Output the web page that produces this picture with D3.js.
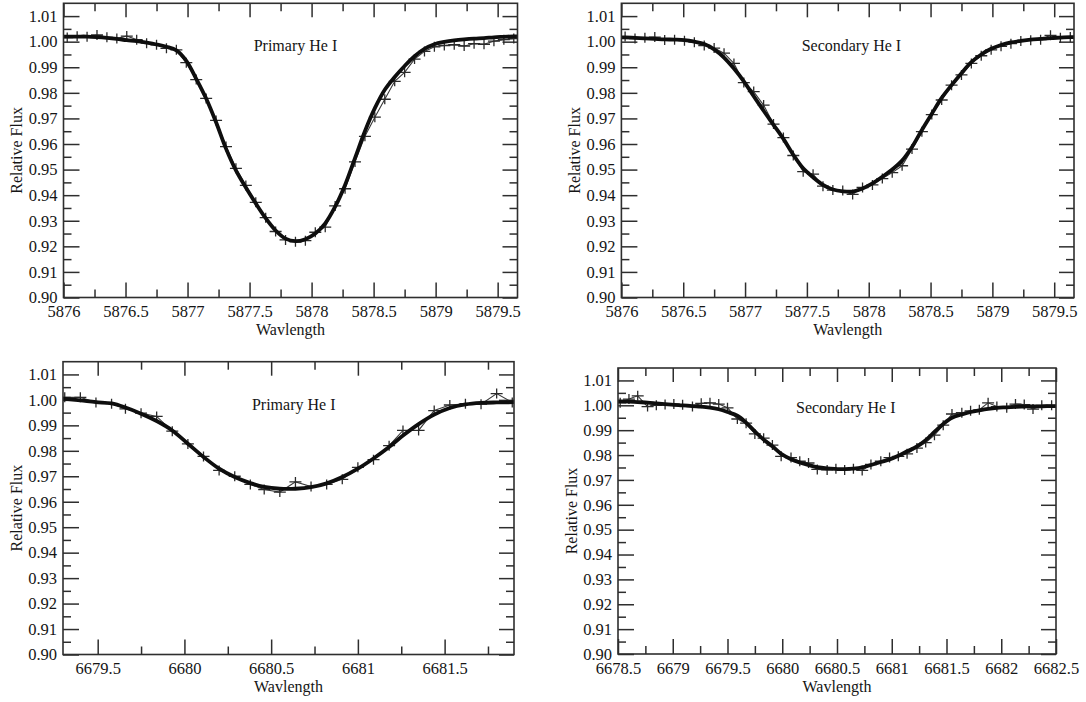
<!DOCTYPE html>
<html>
<head>
<meta charset="utf-8">
<script src="https://cdn.jsdelivr.net/npm/d3@7/dist/d3.min.js"></script>
<style>
  html, body { margin: 0; padding: 0; background: #ffffff; }
  svg { display: block; font-family: 'Liberation Serif', 'Times New Roman', Times, serif; }
</style>
</head>
<body>
<svg id="chart" width="1086" height="702"></svg>
<script>
// He I 5876 line, observed spectrum sampling (both components share it)
const waveObs5876 = [
  5876.03, 5876.11, 5876.19, 5876.27, 5876.35, 5876.43, 5876.51, 5876.59, 5876.67, 5876.75,
  5876.83, 5876.91, 5876.99, 5877.07, 5877.15, 5877.23, 5877.31, 5877.39, 5877.47, 5877.55,
  5877.63, 5877.71, 5877.79, 5877.87, 5877.95, 5878.03, 5878.11, 5878.19, 5878.27, 5878.35,
  5878.43, 5878.51, 5878.59, 5878.67, 5878.75, 5878.83, 5878.91, 5878.99, 5879.07, 5879.15,
  5879.23, 5879.31, 5879.39, 5879.47, 5879.55, 5879.63
];
const waveFit5876 = [5876.00].concat(waveObs5876, [5879.66]);

// Primary component, He I 5876
const primary5876Obs = [
  1.0016, 1.0021, 1.0019, 1.0026, 1.0017, 1.0012, 1.0022, 1.0008, 0.9994, 0.9988,
  0.9974, 0.9968, 0.9918, 0.9852, 0.9778, 0.9692, 0.9590, 0.9505, 0.9438, 0.9372,
  0.9312, 0.9258, 0.9225, 0.9218, 0.9222, 0.9255, 0.9275, 0.9358, 0.9425, 0.9530,
  0.9630, 0.9705, 0.9775, 0.9845, 0.9880, 0.9932, 0.9962, 0.9980, 0.9985, 0.9988,
  0.9983, 0.9992, 0.9990, 1.0002, 1.0008, 1.0012
];
const primary5876Fit = [
  1.0020,
  1.0020, 1.0020, 1.0020, 1.0018, 1.0015, 1.0011, 1.0006, 1.0002, 0.9996, 0.9989,
  0.9980, 0.9966, 0.9925, 0.9855, 0.9778, 0.9685, 0.9582, 0.9497, 0.9430, 0.9368,
  0.9310, 0.9262, 0.9230, 0.9220, 0.9228, 0.9250, 0.9290, 0.9355, 0.9440, 0.9545,
  0.9650, 0.9740, 0.9812, 0.9862, 0.9905, 0.9943, 0.9972, 0.9990, 0.9999, 1.0005,
  1.0009, 1.0012, 1.0014, 1.0017, 1.0019, 1.0021,
  1.0021
];

// Secondary component, He I 5876
const secondary5876Obs = [
  1.0020, 1.0012, 1.0015, 1.0018, 1.0007, 1.0008, 1.0004, 0.9998, 0.9985, 0.9975,
  0.9955, 0.9915, 0.9840, 0.9805, 0.9752, 0.9678, 0.9625, 0.9555, 0.9492, 0.9482,
  0.9435, 0.9420, 0.9418, 0.9403, 0.9430, 0.9440, 0.9465, 0.9488, 0.9515, 0.9580,
  0.9648, 0.9715, 0.9772, 0.9830, 0.9870, 0.9915, 0.9945, 0.9968, 0.9982, 0.9992,
  1.0003, 1.0006, 1.0008, 1.0025, 1.0015, 1.0018
];
const secondary5876Fit = [
  1.0017,
  1.0017, 1.0015, 1.0013, 1.0011, 1.0009, 1.0008, 1.0006, 1.0000, 0.9991, 0.9970,
  0.9938, 0.9895, 0.9845, 0.9787, 0.9730, 0.9675, 0.9620, 0.9558, 0.9505, 0.9470,
  0.9440, 0.9422, 0.9415, 0.9414, 0.9426, 0.9446, 0.9472, 0.9500, 0.9535, 0.9588,
  0.9655, 0.9718, 0.9780, 0.9830, 0.9877, 0.9920, 0.9950, 0.9972, 0.9987, 0.9997,
  1.0003, 1.0008, 1.0011, 1.0014, 1.0016, 1.0018,
  1.0018
];

// Primary component, He I 6678
const primary6678Wave = [
  6679.31, 6679.40, 6679.49, 6679.58, 6679.66, 6679.75, 6679.84, 6679.93, 6680.02, 6680.11,
  6680.20, 6680.29, 6680.38, 6680.46, 6680.55, 6680.64, 6680.73, 6680.82, 6680.91, 6681.00,
  6681.09, 6681.18, 6681.26, 6681.35, 6681.44, 6681.53, 6681.62, 6681.71, 6681.80, 6681.89
];
const primary6678Obs = [
  1.0010, 1.0010, 0.9990, 0.9985, 0.9965, 0.9948, 0.9935, 0.9877, 0.9827, 0.9778,
  0.9723, 0.9700, 0.9668, 0.9648, 0.9638, 0.9678, 0.9660, 0.9668, 0.9688, 0.9735,
  0.9765, 0.9820, 0.9880, 0.9880, 0.9958, 0.9980, 0.9985, 0.9983, 1.0025, 0.9990
];
const primary6678FitWave = [
  6679.30, 6679.40, 6679.49, 6679.58, 6679.66, 6679.75, 6679.84, 6679.93, 6680.02, 6680.11,
  6680.20, 6680.29, 6680.38, 6680.46, 6680.55, 6680.64, 6680.73, 6680.82, 6680.91, 6681.00,
  6681.09, 6681.18, 6681.26, 6681.35, 6681.44, 6681.53, 6681.62, 6681.71, 6681.80, 6681.90
];
const primary6678Fit = [
  1.0005, 0.9998, 0.9991, 0.9986, 0.9970, 0.9946, 0.9917, 0.9880, 0.9828, 0.9776,
  0.9730, 0.9697, 0.9673, 0.9658, 0.9651, 0.9651, 0.9657, 0.9672, 0.9697, 0.9730,
  0.9770, 0.9815, 0.9860, 0.9905, 0.9942, 0.9968, 0.9982, 0.9988, 0.9990, 0.9991
];

// Secondary component, He I 6678
const secondary6678Wave = [
  6678.52, 6678.60, 6678.68, 6678.77, 6678.85, 6678.93, 6679.01, 6679.09, 6679.18, 6679.26,
  6679.34, 6679.42, 6679.50, 6679.59, 6679.67, 6679.75, 6679.83, 6679.91, 6679.99, 6680.08,
  6680.16, 6680.24, 6680.32, 6680.41, 6680.49, 6680.57, 6680.65, 6680.73, 6680.81, 6680.90,
  6680.98, 6681.06, 6681.14, 6681.23, 6681.31, 6681.39, 6681.47, 6681.55, 6681.64, 6681.72,
  6681.80, 6681.88, 6681.96, 6682.05, 6682.13, 6682.21, 6682.29, 6682.37, 6682.46
];
const secondary6678Obs = [
  1.0010, 1.0025, 1.0038, 0.9995, 1.0000, 1.0003, 1.0005, 1.0002, 0.9995, 1.0008,
  1.0010, 1.0005, 0.9990, 0.9945, 0.9928, 0.9885, 0.9868, 0.9840, 0.9795, 0.9790,
  0.9775, 0.9768, 0.9742, 0.9740, 0.9745, 0.9740, 0.9745, 0.9738, 0.9762, 0.9775,
  0.9790, 0.9795, 0.9805, 0.9828, 0.9850, 0.9880, 0.9920, 0.9965, 0.9970, 0.9978,
  0.9982, 1.0010, 0.9995, 0.9990, 1.0005, 1.0003, 0.9985, 1.0000, 1.0000
];
const secondary6678FitWave = [6678.50].concat(secondary6678Wave, [6682.50]);
const secondary6678Fit = [
  1.0016,
  1.0016, 1.0015, 1.0013, 1.0011, 1.0008, 1.0005, 1.0002, 1.0000, 0.9997, 0.9995,
  0.9991, 0.9984, 0.9973, 0.9958, 0.9930, 0.9895, 0.9862, 0.9835, 0.9805, 0.9783,
  0.9770, 0.9760, 0.9751, 0.9746, 0.9744, 0.9743, 0.9745, 0.9750, 0.9760, 0.9772,
  0.9782, 0.9797, 0.9815, 0.9835, 0.9860, 0.9893, 0.9925, 0.9950, 0.9963, 0.9973,
  0.9980, 0.9986, 0.9990, 0.9992, 0.9994, 0.9995, 0.9996, 0.9996, 0.9997,
  0.9997
];

// Axis ticks
const fluxTicks = [0.90, 0.91, 0.92, 0.93, 0.94, 0.95, 0.96, 0.97, 0.98, 0.99, 1.00, 1.01];
const fluxMinor = [0.905, 0.915, 0.925, 0.935, 0.945, 0.955, 0.965, 0.975, 0.985, 0.995, 1.005];
const waveTicks5876 = [5876, 5876.5, 5877, 5877.5, 5878, 5878.5, 5879, 5879.5];
const waveMinor5876 = [5876.25, 5876.75, 5877.25, 5877.75, 5878.25, 5878.75, 5879.25];
const waveTicksP6678 = [6679.5, 6680, 6680.5, 6681, 6681.5];
const waveMinorP6678 = [6679.75, 6680.25, 6680.75, 6681.25, 6681.75];
const waveTicksS6678 = [6678.5, 6679, 6679.5, 6680, 6680.5, 6681, 6681.5, 6682, 6682.5];
const waveMinorS6678 = [6678.75, 6679.25, 6679.75, 6680.25, 6680.75, 6681.25, 6681.75, 6682.25];

const titles = ["Primary He I", "Secondary He I", "Primary He I", "Secondary He I"];
const xTitle = "Wavlength";
const yTitle = "Relative Flux";

const FONT = "'Liberation Serif', 'Times New Roman', Times, serif";
const INK = "#151515";
const FRAME = "#2e2e2e";

const panels = [
  { box: [63.5, 3.3, 517.5, 297.5], xDomain: [5876, 5879.66],
    waveObs: waveObs5876, obs: primary5876Obs, waveFit: waveFit5876, fit: primary5876Fit,
    major: waveTicks5876, minor: waveMinor5876, title: titles[0], titleAt: [5877.87, 0.9962] },
  { box: [621.4, 3.3, 1074, 297.5], xDomain: [5876, 5879.66],
    waveObs: waveObs5876, obs: secondary5876Obs, waveFit: waveFit5876, fit: secondary5876Fit,
    major: waveTicks5876, minor: waveMinor5876, title: titles[1], titleAt: [5877.86, 0.9965] },
  { box: [63, 361.7, 514, 654.5], xDomain: [6679.3, 6681.9],
    waveObs: primary6678Wave, obs: primary6678Obs, waveFit: primary6678FitWave, fit: primary6678Fit,
    major: waveTicksP6678, minor: waveMinorP6678, title: titles[2], titleAt: [6680.63, 0.9962] },
  { box: [618, 368, 1056, 654], xDomain: [6678.5, 6682.5],
    waveObs: secondary6678Wave, obs: secondary6678Obs, waveFit: secondary6678FitWave, fit: secondary6678Fit,
    major: waveTicksS6678, minor: waveMinorS6678, title: titles[3], titleAt: [6680.58, 0.9968] }
];

const svg = d3.select("#chart");
const fmtWave = d => String(+d.toFixed(2));
const fmtFlux = d3.format(".2f");

panels.forEach((p, i) => {
  const [x0, y0, x1, y1] = p.box;
  const w = x1 - x0, h = y1 - y0;
  const x = d3.scaleLinear().domain(p.xDomain).range([0, w]);
  const y = d3.scaleLinear().domain([0.90, 1.015]).range([h, 0]);

  const g = svg.append("g").attr("transform", `translate(${x0},${y0})`);

  const clipId = "clip" + i;
  g.append("clipPath").attr("id", clipId)
    .append("rect").attr("width", w).attr("height", h);

  // inward-pointing ticks on all four sides
  const styleAxis = sel => {
    sel.attr("font-family", FONT).attr("font-size", 16.5);
    sel.select(".domain").remove();
    sel.selectAll(".tick line").attr("stroke", FRAME).attr("stroke-width", 1.5);
    sel.selectAll(".tick text").attr("fill", INK)
      .style("font-family", FONT).style("font-size", "16.5px");
  };

  g.append("g").attr("transform", `translate(0,${h})`)
    .call(d3.axisBottom(x).tickValues(p.major).tickFormat(fmtWave)
      .tickSizeInner(-15).tickSizeOuter(0).tickPadding(8))
    .call(styleAxis)
    .call(s => s.selectAll(".tick text").attr("y", 8));
  g.append("g").attr("transform", `translate(0,${h})`)
    .call(d3.axisBottom(x).tickValues(p.minor).tickFormat("").tickSizeInner(-8).tickSizeOuter(0))
    .call(styleAxis);
  g.append("g")
    .call(d3.axisTop(x).tickValues(p.major).tickFormat("").tickSizeInner(-14).tickSizeOuter(0))
    .call(styleAxis);
  g.append("g")
    .call(d3.axisTop(x).tickValues(p.minor).tickFormat("").tickSizeInner(-8).tickSizeOuter(0))
    .call(styleAxis);

  g.append("g")
    .call(d3.axisLeft(y).tickValues(fluxTicks).tickFormat(fmtFlux)
      .tickSizeInner(-16).tickSizeOuter(0).tickPadding(6))
    .call(styleAxis)
    .call(s => s.selectAll(".tick text").attr("x", -6));
  g.append("g")
    .call(d3.axisLeft(y).tickValues(fluxMinor).tickFormat("").tickSizeInner(-8).tickSizeOuter(0))
    .call(styleAxis);
  g.append("g").attr("transform", `translate(${w},0)`)
    .call(d3.axisRight(y).tickValues(fluxTicks).tickFormat("").tickSizeInner(-15).tickSizeOuter(0))
    .call(styleAxis);
  g.append("g").attr("transform", `translate(${w},0)`)
    .call(d3.axisRight(y).tickValues(fluxMinor).tickFormat("").tickSizeInner(-8).tickSizeOuter(0))
    .call(styleAxis);

  // plotted spectra
  const plot = g.append("g").attr("clip-path", `url(#${clipId})`);
  const obsPts = p.waveObs.map((wv, k) => [wv, p.obs[k]]);
  const fitPts = p.waveFit.map((wv, k) => [wv, p.fit[k]]);

  plot.append("path")
    .datum(obsPts)
    .attr("fill", "none").attr("stroke", "#3a3a3a").attr("stroke-width", 1.1)
    .attr("d", d3.line().x(d => x(d[0])).y(d => y(d[1])));

  plot.append("g").selectAll("path.cross")
    .data(obsPts).join("path")
    .attr("class", "cross")
    .attr("transform", d => `translate(${x(d[0])},${y(d[1])})`)
    .attr("d", "M-6,0H6M0,-5V5")
    .attr("stroke", "#2a2a2a").attr("stroke-width", 1.3).attr("fill", "none");

  plot.append("path")
    .datum(fitPts)
    .attr("fill", "none").attr("stroke", "#0e0e0e").attr("stroke-width", 3.8)
    .attr("stroke-linejoin", "round").attr("stroke-linecap", "round")
    .attr("d", d3.line().curve(d3.curveCatmullRom).x(d => x(d[0])).y(d => y(d[1])));

  // frame
  g.append("rect").attr("width", w).attr("height", h)
    .attr("fill", "none").attr("stroke", FRAME).attr("stroke-width", 1.6);

  // panel title
  g.append("text")
    .attr("x", x(p.titleAt[0])).attr("y", y(p.titleAt[1]))
    .attr("text-anchor", "middle")
    .attr("fill", INK)
    .attr("font-family", FONT).attr("font-size", 16)
    .text(p.title);

  // axis titles
  g.append("text")
    .attr("x", w / 2).attr("y", h + 38)
    .attr("text-anchor", "middle")
    .attr("fill", INK)
    .attr("font-family", FONT).attr("font-size", 16)
    .text(xTitle);

  g.append("text")
    .attr("transform", `translate(-47,${h / 2}) rotate(-90)`)
    .attr("text-anchor", "middle")
    .attr("dy", "0.35em")
    .attr("fill", INK)
    .attr("font-family", FONT).attr("font-size", 16)
    .text(yTitle);
});
</script>
</body>
</html>
